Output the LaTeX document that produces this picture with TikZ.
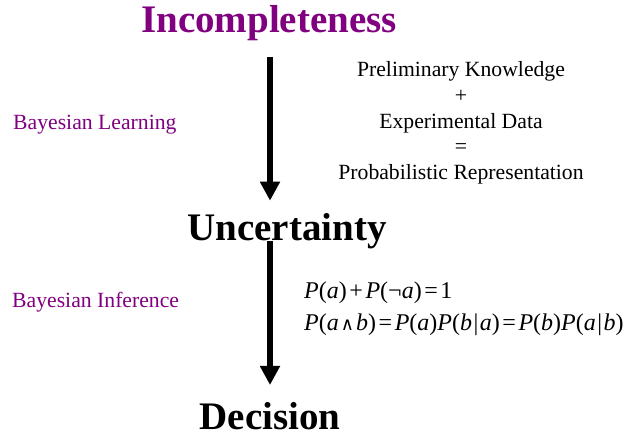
\documentclass[tikz,border=0pt]{standalone}
\usepackage{fontspec}
\setmainfont{Liberation Serif}
\newfontfamily\dvs{DejaVu Serif}
\usetikzlibrary{arrows.meta}
\definecolor{tpurple}{RGB}{128,0,128}
\tikzset{
  title/.style={font=\fontsize{39}{44}\selectfont\bfseries, inner sep=0pt, anchor=base},
  side/.style={font=\fontsize{21.7}{24}\selectfont, text=tpurple, inner sep=0pt, anchor=base west},
  blk/.style={font=\fontsize{21.7}{24}\selectfont, inner sep=0pt, anchor=base},
  eq/.style={font=\fontsize{24}{28}\selectfont, inner sep=0pt, anchor=base west},
  bigarrow/.style={line width=6pt, -{Triangle[width=19pt,length=19pt]}}
}
\newcommand{\mi}[1]{\textit{#1}}
\newcommand{\eqsp}{\kern2.6pt}
\newcommand{\eqtsp}{\kern2pt}
\begin{document}
\begin{tikzpicture}[x=1pt,y=1pt]
\useasboundingbox (0,0) rectangle (626,436);
\node[title, text=tpurple] (inc) at (269,403) {Incompleteness};
\coordinate (a1s) at (270,379);
\coordinate (a1e) at (270,235.3);
\coordinate (a2s) at (270,195);
\coordinate (a2e) at (270,51);
\draw[bigarrow] (a1s) -- (a1e);
\draw[bigarrow] (a2s) -- (a2e);
\node[title] (unc) at (287,195) {Uncertainty};
\node[title] (dec) at (270,6) {Decision};
\node[side] (bl) at (13,306) {Bayesian Learning};
\node[side] (bi) at (12,128) {Bayesian Inference};
\node[blk] (r1) at (461,359) {Preliminary Knowledge};
\node[blk] (r2) at (461,333) {+};
\node[blk] (r3) at (461,307) {Experimental Data};
\node[blk] (r4) at (461,282) {=};
\node[blk] (r5) at (461,256) {Probabilistic Representation};
\node[eq] (e1) at (304,137) {\mi{P}(\mi{a})\eqsp+\eqsp\mi{P}(¬\mi{a})\eqsp=\eqsp1};
\node[eq] (e2) at (304,105) {\mi{P}(\mi{a}\eqtsp{\dvs\fontsize{18}{20}\selectfont ∧}\eqtsp\mi{b})\eqsp=\eqsp\mi{P}(\mi{a})\mi{P}(\mi{b}\kern1.5pt|\kern1.5pt\mi{a})\eqsp=\eqsp\mi{P}(\mi{b})\mi{P}(\mi{a}\kern1.5pt|\kern1.5pt\mi{b})};
\end{tikzpicture}
\end{document}
